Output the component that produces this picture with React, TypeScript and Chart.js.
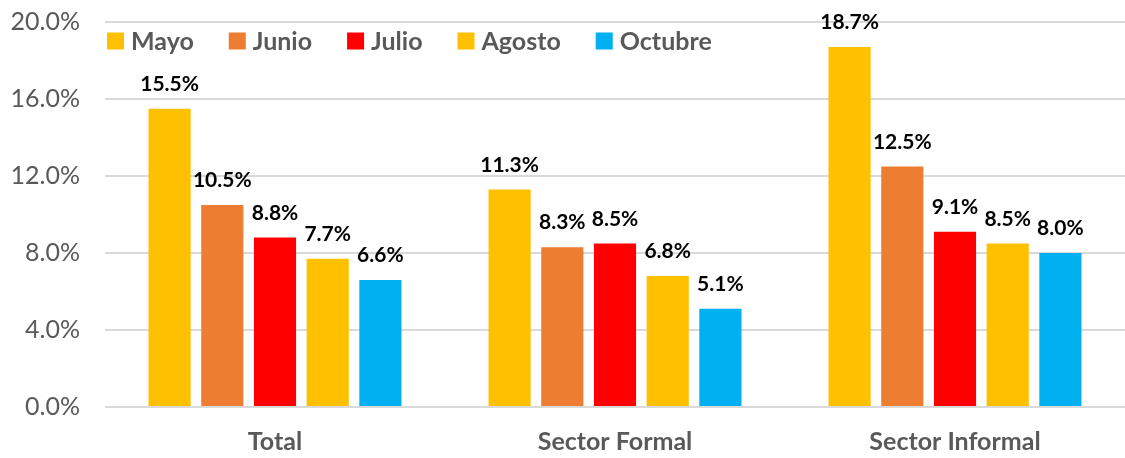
import React, { useEffect, useRef } from "react";
import { Chart, registerables } from "chart.js";

Chart.register(...registerables);

const categories = ["Total", "Sector Formal", "Sector Informal"];
const seriesNames = ["Mayo", "Junio", "Julio", "Agosto", "Octubre"];
const mayo = [15.5, 11.3, 18.7];
const junio = [10.5, 8.3, 12.5];
const julio = [8.8, 8.5, 9.1];
const agosto = [7.7, 6.8, 8.5];
const octubre = [6.6, 5.1, 8.0];
const seriesValues = [mayo, junio, julio, agosto, octubre];
const seriesColors = ["#FFC000", "#ED7D31", "#FF0000", "#FFC000", "#00B0F0"];
const yTicks = [0, 4, 8, 12, 16, 20];

const FONT = "Lato, 'Open Sans', sans-serif";

const labelPlugin = {
  id: "barLabels",
  afterDatasetsDraw(chart: any) {
    const ctx = chart.ctx;
    ctx.save();
    ctx.font = `bold 21px ${FONT}`;
    ctx.fillStyle = "#000000";
    ctx.textAlign = "center";
    ctx.textBaseline = "bottom";
    chart.data.datasets.forEach((ds: any, i: number) => {
      const meta = chart.getDatasetMeta(i);
      meta.data.forEach((bar: any, j: number) => {
        const v = ds.data[j];
        ctx.fillText(v.toFixed(1) + "%", bar.x, bar.y - 14);
      });
    });
    ctx.restore();
  },
};

const legendPlugin = {
  id: "customLegend",
  afterDraw(chart: any) {
    const ctx = chart.ctx;
    ctx.save();
    ctx.font = `bold 25px ${FONT}`;
    ctx.textBaseline = "middle";
    ctx.textAlign = "left";
    let x = 107;
    const yc = 41;
    chart.data.datasets.forEach((ds: any) => {
      ctx.fillStyle = ds.backgroundColor;
      ctx.fillRect(x, yc - 8.5, 17, 17);
      ctx.fillStyle = "#595959";
      ctx.fillText(ds.label, x + 24, yc + 1);
      x += 24 + ctx.measureText(ds.label).width + 35;
    });
    ctx.restore();
  },
};

export default function App() {
  const ref = useRef<HTMLCanvasElement | null>(null);
  useEffect(() => {
    document.body.style.margin = "0";
    const chart = new Chart(ref.current as HTMLCanvasElement, {
      type: "bar",
      data: {
        labels: categories,
        datasets: seriesNames.map((name, i) => ({
          label: name,
          data: seriesValues[i],
          backgroundColor: seriesColors[i],
          categoryPercentage: 0.775,
          barPercentage: 0.8,
        })),
      },
      options: {
        animation: false,
        responsive: false,
        layout: { autoPadding: false, padding: { top: 22, right: 0, left: 0, bottom: 0 } },
        plugins: {
          legend: { display: false },
          tooltip: { enabled: false },
        },
        scales: {
          y: {
            min: 0,
            max: 20,
            afterFit: (s: any) => {
              s.width = 105;
              s.paddingTop = 0;
              s.paddingBottom = 0;
            },
            afterBuildTicks: (s: any) => {
              s.ticks = yTicks.map((v) => ({ value: v }));
            },
            ticks: {
              padding: 25,
              color: "#595959",
              font: { family: FONT, size: 25 },
              callback: (v: any) => Number(v).toFixed(1) + "%",
            },
            grid: { color: "#D9D9D9", lineWidth: 2, drawTicks: false },
            border: { display: false },
          },
          x: {
            afterFit: (s: any) => {
              s.height = 51;
            },
            ticks: {
              padding: 20,
              color: "#595959",
              font: { family: FONT, size: 25, weight: "bold" },
            },
            grid: { display: false, drawTicks: false },
            border: { display: false },
          },
        },
      },
      plugins: [labelPlugin, legendPlugin],
    });
    return () => chart.destroy();
  }, []);
  return (
    <div style={{ width: 1125, height: 458 }}>
      <canvas ref={ref} width={1125} height={458} style={{ display: "block" }} />
    </div>
  );
}
